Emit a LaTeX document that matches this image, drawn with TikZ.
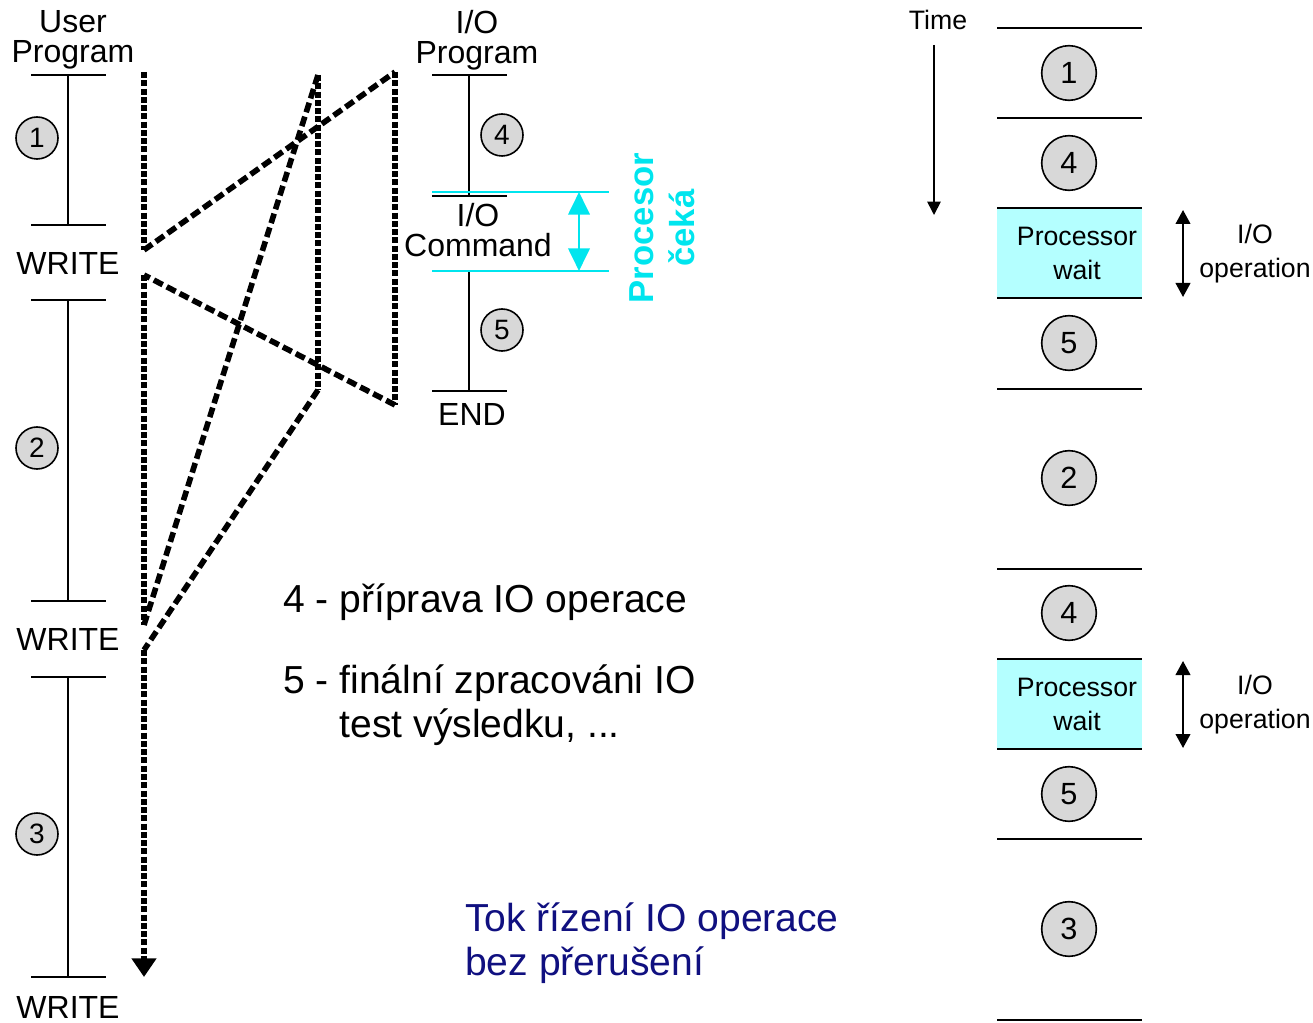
\documentclass[tikz,border=0pt]{standalone}
\usepackage{fontspec}
\setmainfont{Liberation Sans}
\usetikzlibrary{calc, arrows.meta, positioning}

\definecolor{waitcyan}{RGB}{0,229,238}
\definecolor{waitfill}{RGB}{180,255,255}
\definecolor{stepgray}{RGB}{216,216,216}
\definecolor{noteblue}{RGB}{16,16,128}

\newcommand{\tickbar}[1]{%
    \draw[tickline] (#1) ++(-37,0) -- ++(75,0);
}
\newcommand{\timeseg}[2]{%
    \draw[tickline] (#1) -- (#2);
    \tickbar{#1}
    \tickbar{#2}
}

\tikzset{
    tickline/.style={line width=1.5pt},
    numcircle/.style={circle, draw, line width=1.2pt, fill=stepgray, inner sep=0pt,
        minimum size=31.5pt, font=\fontsize{21}{21}\selectfont},
    bignum/.style={numcircle, minimum size=41pt, font=\fontsize{23}{23}\selectfont},
    lbl/.style={align=center, inner sep=0pt, font=\fontsize{24}{22.5}\selectfont},
    note/.style={align=left, anchor=base west, inner sep=0pt, font=\fontsize{29.3}{33}\selectfont},
    smalltext/.style={align=center, inner sep=0pt, font=\fontsize{20}{25.5}\selectfont},
    flowdiag/.style={line width=4.2pt, dash pattern=on 7.5pt off 3.4pt},
    flowvert/.style={line width=4.2pt, dash pattern=on 4.5pt off 1.7pt},
    iospan/.style={line width=1.5pt, {Triangle[width=11pt,length=10.5pt]}-{Triangle[width=11pt,length=10.5pt]}},
}

\begin{document}
\begin{tikzpicture}[x=0.75pt, y=-0.75pt]
    \useasboundingbox (0,0) rectangle (1313,1023);

    % user program
    \coordinate (U0) at (68,75);
    \coordinate (U1) at (68,225);
    \coordinate (U2) at (68,300);
    \coordinate (U3) at (68,601);
    \coordinate (U4) at (68,677);
    \coordinate (U5) at (68,977);
    \timeseg{U0}{U1}
    \timeseg{U2}{U3}
    \timeseg{U4}{U5}
    \node[lbl, anchor=north] (userprog) at (73,10) {User\\Program};
    \node[lbl] (write1) at (68,263.5) {WRITE};
    \node[lbl] (write2) at (68,639.5) {WRITE};
    \node[lbl] (write3) at (68,1007) {WRITE};
    \node[numcircle] (u1) at (37,138) {1};
    \node[numcircle] (u2) at (37,448) {2};
    \node[numcircle] (u3) at (37,834) {3};

    % i/o program
    \coordinate (I0) at (469,75);
    \coordinate (I1) at (469,196);
    \coordinate (I2) at (469,271);
    \coordinate (I3) at (469,391);
    \timeseg{I0}{I1}
    \timeseg{I2}{I3}
    \node[lbl, anchor=north] (ioprog) at (477,10) {I/O\\Program};
    \node[lbl, anchor=north] (iocmd) at (478,203) {I/O\\Command};
    \node[lbl] (ioend) at (472,414) {END};
    \node[numcircle] (io4) at (502,135) {4};
    \node[numcircle] (io5) at (502,330) {5};

    % processor waits
    \coordinate (C0) at (432,192);
    \coordinate (C1) at (609,192);
    \coordinate (C2) at (432,271);
    \coordinate (C3) at (609,271);
    \draw[waitcyan, line width=2.2pt] (C0) -- (C1) (C2) -- (C3);
    \coordinate (W0) at (579,192);
    \coordinate (W1) at (579,271);
    \draw[waitcyan, line width=2.2pt, {Triangle[width=16pt,length=17pt]}-{Triangle[width=16pt,length=17pt]}] (W0) -- (W1);
    \node[rotate=90, align=center, inner sep=0pt, text=waitcyan,
        font=\fontsize{26}{31}\selectfont\bfseries] (cpuwait) at (662,228) {Procesor\\čeká};

    % control flow
    \coordinate (F0) at (144,72);
    \coordinate (F1) at (144,250);
    \coordinate (F2) at (395,72);
    \coordinate (F3) at (395,405);
    \coordinate (F4) at (144,275);
    \coordinate (F5) at (144,625);
    \coordinate (F6) at (318,75);
    \coordinate (F7) at (318,390);
    \coordinate (F8) at (144,650);
    \coordinate (F9) at (144,977);
    \draw[flowvert] (F0) -- (F1);
    \draw[flowdiag] (F1) -- (F2);
    \draw[flowvert] (F2) -- (F3);
    \draw[flowdiag] (F3) -- (F4);
    \draw[flowvert] (F4) -- (F5);
    \draw[flowdiag] (F5) -- (F6);
    \draw[flowvert] (F6) -- (F7);
    \draw[flowdiag] (F7) -- (F8);
    \draw[flowvert, -{Triangle[width=18pt,length=14pt]}] (F8) -- (F9);

    \node[note] (prep) at (283,612) {4 - příprava IO operace};
    \node[note] (final) at (283,737) {5 - finální zpracováni IO\\\phantom{5 - }test výsledku, ...};
    \node[note, text=noteblue] (title) at (465,975) {Tok řízení IO operace\\bez přerušení};

    % time line
    \node[smalltext] (time) at (938,20) {Time};
    \coordinate (T0) at (934,45);
    \coordinate (T1) at (934,215);
    \draw[line width=1.3pt, -{Triangle[width=10pt,length=10pt]}] (T0) -- (T1);

    \foreach \dy/\k in {0/1,451/2} {
        \fill[waitfill] (997,208+\dy) rectangle (1142,298+\dy);
        \node[smalltext] (pw\k) at (1077,253+\dy) {Processor\\wait};
        \node[smalltext] (op\k) at (1255,254+\dy) {I/O\\operation};
        \coordinate (opA\k) at (1183,210+\dy);
        \coordinate (opB\k) at (1183,297+\dy);
        \draw[iospan] (opA\k) -- (opB\k);
    }
    \foreach \y in {28,118,208,298,389,569,659,749,839,1020}
        \draw[line width=1.5pt] (997,\y) -- (1142,\y);
    \foreach \n/\y [count=\i] in {1/73,4/163,5/343,2/478,4/613,5/794,3/929}
        \node[bignum] (t\i) at (1069,\y) {\n};
\end{tikzpicture}
\end{document}
